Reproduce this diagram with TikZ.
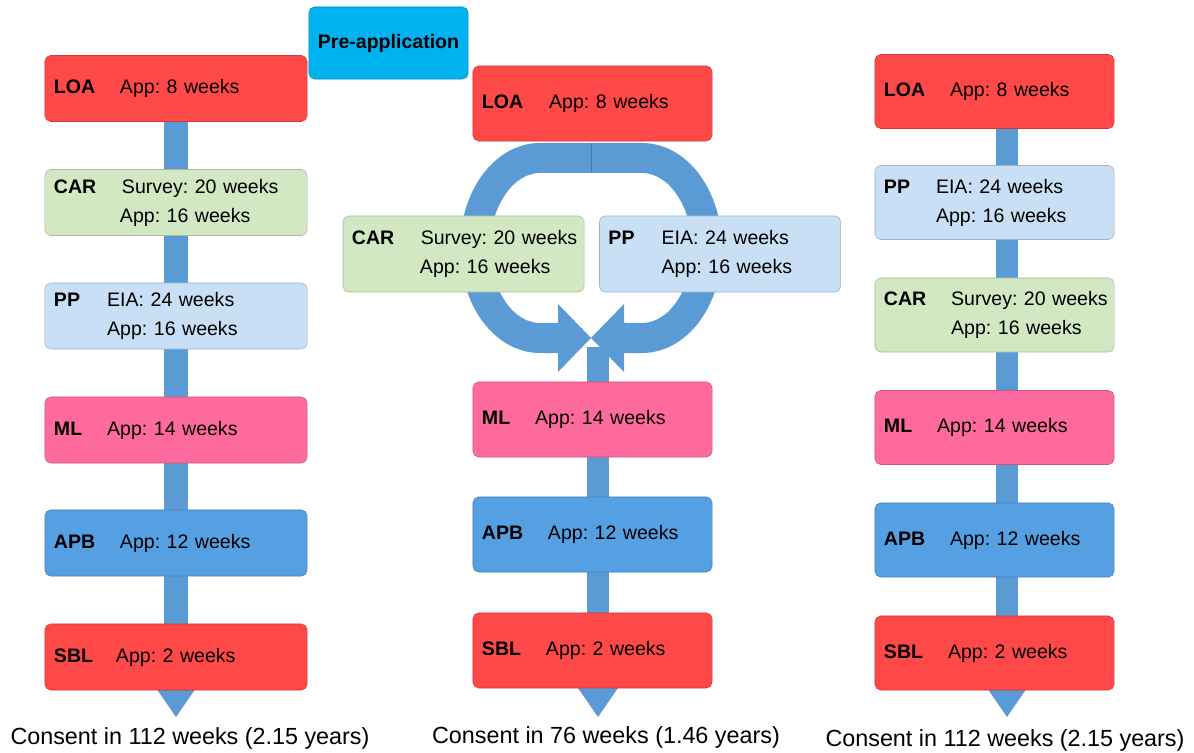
\documentclass[tikz,border=0pt]{standalone}
\usepackage{fontspec}
\setmainfont{Liberation Sans}
\usetikzlibrary{arrows.meta,backgrounds}

\definecolor{loared}{HTML}{FF4848}
\definecolor{cargreen}{HTML}{D2E8C2}
\definecolor{pplblue}{HTML}{C8DFF5}
\definecolor{mlpink}{HTML}{FF6A9E}
\definecolor{apbblue}{HTML}{55A0E3}
\definecolor{precyan}{HTML}{00B2F0}
\definecolor{shaftblue}{HTML}{5B9BD5}

\newcommand{\stg}[3]{\makebox[#1][l]{\textbf{#2}}\mbox{#3}}

\tikzset{
    stage/.style={draw=#1!80!black, fill=#1, rounded corners=4pt, inner xsep=0.225cm,
        align=left, font=\fontsize{13.9}{20.6}\selectfont\frenchspacing},
    lbox/.style={stage=#1, text width=6.1cm, minimum height=1.65cm},
    mbox/.style={stage=#1, text width=5.525cm, minimum height=1.875cm},
    sbox/.style={stage=#1, text width=5.575cm, minimum height=1.9cm},
    rbox/.style={stage=#1, text width=5.525cm, minimum height=1.85cm},
    shaft/.style={draw=shaftblue, line width=0.53cm,
        -{Triangle[length=0.725cm, width=1cm, line width=0pt]}},
    ring/.style={draw=shaftblue, line width=0.75cm,
        -{Triangle[length=0.825cm, width=1.7cm, line width=0pt]}},
    total/.style={font=\fontsize{16.6}{20}\selectfont\frenchspacing}
}

\begin{document}
\begin{tikzpicture}[x=0.025cm, y=-0.025cm]
    \useasboundingbox (0,0) rectangle (1194,753);

    % left route
    \node[lbox=loared] (L-loa) at (176,88.5) {\stg{1.65cm}{LOA}{App: 8 weeks}};
    \node[lbox=cargreen] (L-car) at (176,202.5) {\stg{1.7cm}{CAR}{Survey: 20 weeks}\\\hspace*{1.65cm}App: 16 weeks};
    \node[lbox=pplblue] (L-pp) at (176,316) {\stg{1.33cm}{PP}{EIA: 24 weeks}\\\hspace*{1.33cm}App: 16 weeks};
    \node[lbox=mlpink] (L-ml) at (176,430) {\stg{1.33cm}{ML}{App: 14 weeks}};
    \node[lbox=apbblue] (L-apb) at (176,543) {\stg{1.65cm}{APB}{App: 12 weeks}};
    \node[lbox=loared] (L-sbl) at (176,657) {\stg{1.55cm}{SBL}{App: 2 weeks}};
    \coordinate (L-end) at (176,717);
    \node[total] (L-sum) at (190,738) {Consent in 112 weeks (2.15 years)};

    \node[stage=precyan, minimum width=3.925cm, minimum height=1.8cm, align=center,
        font=\fontsize{13.9}{16}\selectfont\bfseries] (pre) at (388.5,43) {Pre-application};

    % middle route
    \node[mbox=loared] (M-loa) at (592.5,103.5) {\stg{1.68cm}{LOA}{App: 8 weeks}};
    \node[sbox=cargreen] (M-car) at (463.5,254) {\stg{1.72cm}{CAR}{Survey: 20 weeks}\\\hspace*{1.7cm}App: 16 weeks};
    \node[sbox=pplblue] (M-pp) at (720,254) {\stg{1.33cm}{PP}{EIA: 24 weeks}\\\hspace*{1.33cm}App: 16 weeks};
    \node[mbox=mlpink] (M-ml) at (592.5,419.5) {\stg{1.33cm}{ML}{App: 14 weeks}};
    \node[mbox=apbblue] (M-apb) at (592.5,534.5) {\stg{1.65cm}{APB}{App: 12 weeks}};
    \node[mbox=loared] (M-sbl) at (592.5,650.5) {\stg{1.6cm}{SBL}{App: 2 weeks}};
    \coordinate (M-split) at (591,158);
    \coordinate (M-meet) at (591,338);
    \coordinate (M-top) at (598,347);
    \coordinate (M-end) at (598,717);
    \node[total] (M-sum) at (606,737) {Consent in 76 weeks (1.46 years)};

    % right route
    \node[rbox=loared] (R-loa) at (994.5,91.5) {\stg{1.65cm}{LOA}{App: 8 weeks}};
    \node[rbox=pplblue] (R-pp) at (994.5,202.5) {\stg{1.3cm}{PP}{EIA: 24 weeks}\\\hspace*{1.3cm}App: 16 weeks};
    \node[rbox=cargreen] (R-car) at (994.5,315) {\stg{1.68cm}{CAR}{Survey: 20 weeks}\\\hspace*{1.68cm}App: 16 weeks};
    \node[rbox=mlpink] (R-ml) at (994.5,427.5) {\stg{1.33cm}{ML}{App: 14 weeks}};
    \node[rbox=apbblue] (R-apb) at (994.5,540) {\stg{1.65cm}{APB}{App: 12 weeks}};
    \node[rbox=loared] (R-sbl) at (994.5,653) {\stg{1.6cm}{SBL}{App: 2 weeks}};
    \coordinate (R-top) at (1007,128);
    \coordinate (R-end) at (1007,717);
    \node[total] (R-sum) at (1005,740) {Consent in 112 weeks (2.15 years)};

    \begin{pgfonlayer}{background}
        \draw[shaft, line width=0.6cm] (L-loa.south) -- (L-end);
        \draw[shaft] (M-top) -- (M-end);
        \draw[shaft] (R-top) -- (R-end);
        % CAR and PP side by side
        \draw[ring] (M-split) -- ++(-51,0) arc[start angle=-90, end angle=-270, x radius=65, y radius=90] -- (M-meet);
        \draw[ring] (M-split) -- ++(51,0) arc[start angle=-90, end angle=90, x radius=65, y radius=90] -- (M-meet);
        \draw[shaftblue!80!black, thin] ([yshift=0.375cm]M-split) -- ([yshift=-0.375cm]M-split);
    \end{pgfonlayer}
\end{tikzpicture}
\end{document}
